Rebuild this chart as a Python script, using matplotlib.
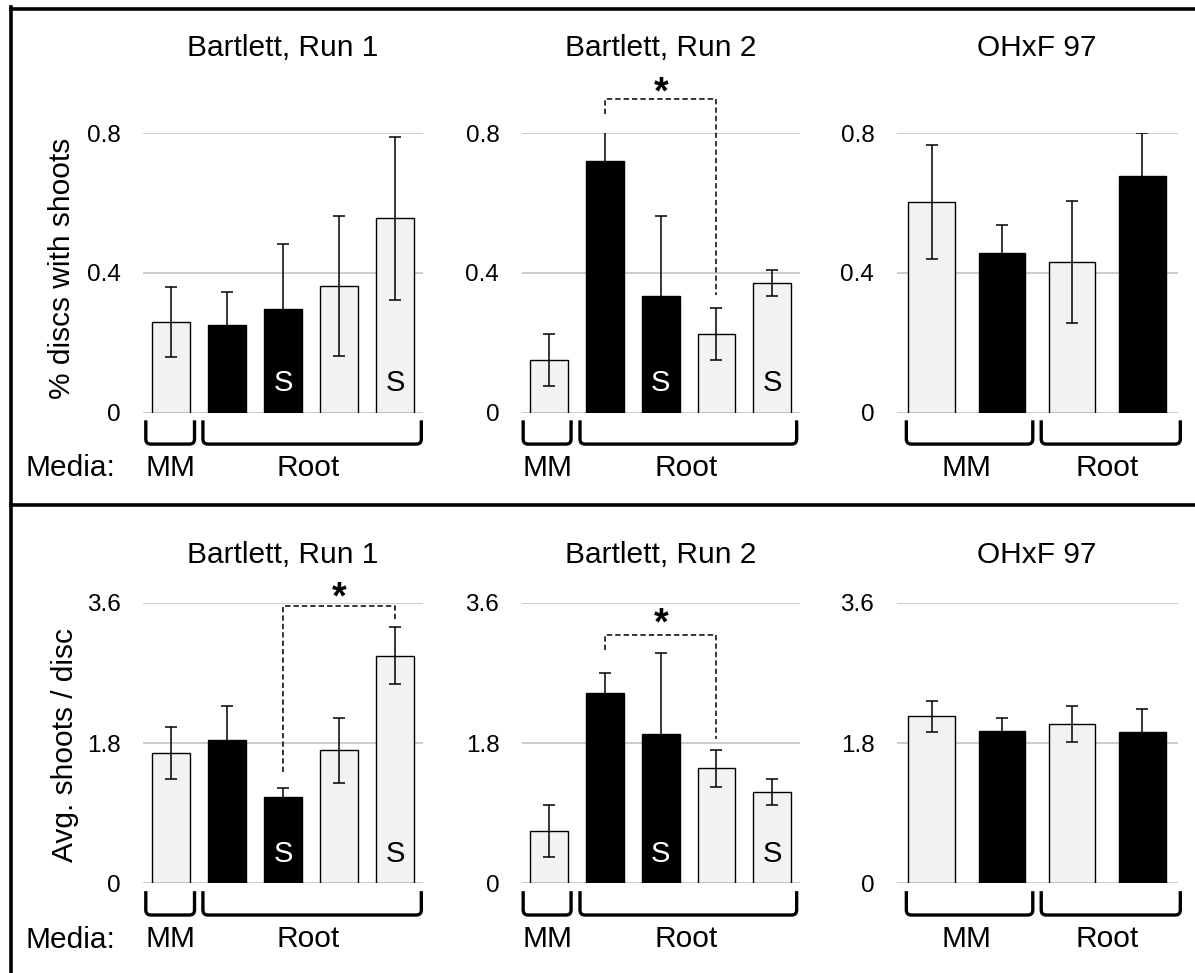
import matplotlib
matplotlib.use("Agg")
import matplotlib.pyplot as plt
import matplotlib.transforms as mtransforms
from matplotlib.lines import Line2D
from matplotlib.path import Path
from matplotlib.patches import PathPatch

plt.rcParams['font.family'] = ['Liberation Sans', 'DejaVu Sans']

# Donnees
titles = ["Bartlett, Run 1", "Bartlett, Run 2", "OHxF 97"]
ylabels = ["% discs with shoots", "Avg. shoots / disc"]

top_vals = [[0.26, 0.25, 0.296, 0.363, 0.556],
            [0.15, 0.72, 0.333, 0.225, 0.371],
            [0.602, 0.456, 0.431, 0.676]]
top_errs = [[0.10, 0.095, 0.186, 0.20, 0.233],
            [0.075, 0.104, 0.23, 0.074, 0.037],
            [0.164, 0.08, 0.175, 0.123]]
bot_vals = [[1.666, 1.843, 1.11, 1.705, 2.918],
            [0.673, 2.443, 1.92, 1.474, 1.17],
            [2.142, 1.958, 2.044, 1.941]]
bot_errs = [[0.334, 0.43, 0.116, 0.42, 0.365],
            [0.334, 0.257, 1.03, 0.238, 0.165],
            [0.20, 0.163, 0.23, 0.296]]

# couleur de chaque barre (L = clair, B = noir) et barres marquees "S"
kinds = [["L", "B", "B", "L", "L"],
         ["L", "B", "B", "L", "L"],
         ["L", "B", "L", "B"]]
s_marks = [[2, 4], [2, 4], []]

yticks = [[0, 0.4, 0.8], [0, 1.8, 3.6]]
ylims = [0.8, 3.6]

# groupes de milieu : (label, debut, fin, position du texte)
groups = [[("MM", -0.45, 0.42, 0.0), ("Root", 0.57, 4.47, 2.45)],
          [("MM", -0.47, 0.39, -0.03), ("Root", 0.55, 4.44, 2.45)],
          [("MM", -0.36, 1.44, 0.5), ("Root", 1.56, 3.54, 2.5)]]

# crochets de significativite : (ligne, panneau, x1, x2, bas gauche, haut, bas droite, y etoile)
sig = [(0, 1, 1, 3, 0.855, 0.896, 0.335, 0.912),
       (1, 0, 2, 4, 1.422, 3.556, 3.363, 3.66),
       (1, 1, 1, 3, 2.987, 3.184, 1.851, 3.32)]

W, H = 1195, 973
fig = plt.figure(figsize=(W / 100, H / 100), dpi=100)

cols_px = [(143, 423), (521.5, 800), (896.5, 1177.5)]
rows_px = [(133, 412.5), (602.7, 883.3)]
title_y = [1.304, 1.17]
ylabel_pos = [(62, 268), (65, 745)]

LIGHT = "#f2f2f2"
GRID = "#bfbfbf"
BIG = 21.5


def bracket(ax, trans, a, b, spacing):
    # crochet a coins arrondis sous l'axe
    rx = 5 / spacing
    ry = 5 / 280
    top, bot = -0.028, -0.113
    verts = [(a, top), (a, bot + ry), (a, bot), (a + rx, bot),
             (b - rx, bot), (b, bot), (b, bot + ry), (b, top)]
    codes = [Path.MOVETO, Path.LINETO, Path.CURVE3, Path.CURVE3,
             Path.LINETO, Path.CURVE3, Path.CURVE3, Path.LINETO]
    patch = PathPatch(Path(verts, codes), transform=trans, fill=False,
                      edgecolor="black", linewidth=2.4, clip_on=False,
                      capstyle="butt", joinstyle="round")
    ax.add_patch(patch)


axes = [[None] * 3 for _ in range(2)]
for r in range(2):
    vals_row = top_vals if r == 0 else bot_vals
    errs_row = top_errs if r == 0 else bot_errs
    y0, y1 = rows_px[r]
    for c in range(3):
        x0, x1 = cols_px[c]
        ax = fig.add_axes([x0 / W, 1 - y1 / H, (x1 - x0) / W, (y1 - y0) / H])
        axes[r][c] = ax
        vals = vals_row[c]
        errs = errs_row[c]
        n = len(vals)
        xs = list(range(n))
        width = 0.68 if n == 5 else 0.66
        for i in xs:
            fc = "black" if kinds[c][i] == "B" else LIGHT
            ax.bar(i, vals[i], width=width, color=fc, edgecolor="black",
                   linewidth=1.0, zorder=2)
        ax.errorbar(xs, vals, yerr=errs, fmt="none", ecolor="black",
                    elinewidth=1.1, capsize=4, capthick=1.1, zorder=3)
        trans = mtransforms.blended_transform_factory(ax.transData, ax.transAxes)
        for i in s_marks[c]:
            tc = "white" if kinds[c][i] == "B" else "black"
            ax.text(i, 0.105, "S", transform=trans, ha="center", va="center",
                    fontsize=21, color=tc, zorder=4)
        ax.set_xlim(-0.5, n - 0.5)
        ax.set_ylim(0, ylims[r])
        ax.set_yticks(yticks[r])
        ax.set_yticklabels(["0" if t == 0 else f"{t:g}" for t in yticks[r]])
        ax.set_xticks([])
        ax.tick_params(axis="y", length=0, pad=16, labelsize=17.5)
        for sp in ax.spines.values():
            sp.set_visible(False)
        ax.grid(axis="y", color=GRID, linewidth=1.1, zorder=0)
        ax.set_axisbelow(True)
        ax.patch.set_alpha(0)
        ax.text(0.5, title_y[r], titles[c], transform=ax.transAxes,
                ha="center", va="center", fontsize=BIG)
        spacing = (x1 - x0) / n
        for label, ga, gb, gx in groups[c]:
            bracket(ax, trans, ga, gb, spacing)
            ax.text(gx, -0.2, label, transform=trans, ha="center", va="center",
                    fontsize=BIG)
    fig.text(25 / W, 1 - (468 if r == 0 else 940) / H, "Media:",
             ha="left", va="center", fontsize=BIG)
    lx, ly = ylabel_pos[r]
    fig.text(lx / W, 1 - ly / H, ylabels[r], rotation=90, ha="center",
             va="center", fontsize=BIG)

for r, c, xa, xb, ya, ytop, yb, ystar in sig:
    ax = axes[r][c]
    ax.plot([xa, xa, xb, xb], [ya, ytop, ytop, yb], color="black",
            linewidth=1.1, linestyle=(0, (3.5, 2)), clip_on=False, zorder=5)
    ax.text((xa + xb) / 2, ystar, "*", ha="center", va="center",
            fontsize=27, fontweight="bold", clip_on=False)

# cadre
fig.add_artist(Line2D([11 / W, 1], [1 - 8.5 / H, 1 - 8.5 / H], color="black", linewidth=2.6))
fig.add_artist(Line2D([11 / W, 11 / W], [0, 1 - 7 / H], color="black", linewidth=2.6))
fig.add_artist(Line2D([11 / W, 1], [1 - 505 / H, 1 - 505 / H], color="black", linewidth=2.6))

fig.savefig("out.png", dpi=100)
